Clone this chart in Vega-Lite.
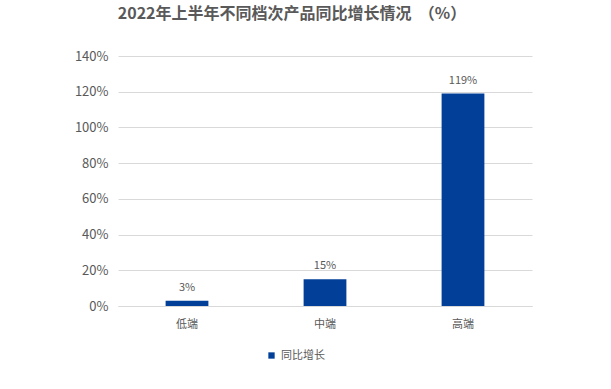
{
  "$schema": "https://vega.github.io/schema/vega-lite/v6.json",
  "width": 414,
  "height": 250,
  "autosize": "none",
  "padding": {"left": 118, "top": 56, "right": 79, "bottom": 83},
  "background": "white",
  "config": {
    "font": "Noto Sans CJK SC",
    "view": {"stroke": null}
  },
  "title": {
    "text": "2022年上半年不同档次产品同比增长情况\u00a0\u00a0（%）",
    "fontSize": 16,
    "fontWeight": "bold",
    "color": "#595959",
    "anchor": "middle",
    "frame": "group",
    "dx": -33,
    "offset": 28
  },
  "data": {
    "values": [
      {"档次": "低端", "同比增长": 0.03, "label": "3%", "series": "同比增长"},
      {"档次": "中端", "同比增长": 0.15, "label": "15%", "series": "同比增长"},
      {"档次": "高端", "同比增长": 1.19, "label": "119%", "series": "同比增长"}
    ]
  },
  "encoding": {
    "x": {
      "field": "档次",
      "type": "nominal",
      "sort": null,
      "scale": {"paddingInner": 0.69, "paddingOuter": 0.345},
      "axis": {
        "title": null,
        "labelAngle": 0,
        "labelFontSize": 11,
        "labelColor": "#595959",
        "labelPadding": 12,
        "ticks": false,
        "domainColor": "#d9d9d9"
      }
    },
    "y": {
      "field": "同比增长",
      "type": "quantitative",
      "scale": {"domain": [0, 1.4]},
      "axis": {
        "title": null,
        "format": ".0%",
        "values": [0, 0.2, 0.4, 0.6, 0.8, 1.0, 1.2, 1.4],
        "labelFontSize": 13,
        "labelColor": "#595959",
        "labelPadding": 10,
        "ticks": false,
        "domain": false,
        "gridColor": "#d9d9d9"
      }
    }
  },
  "layer": [
    {
      "mark": {"type": "bar"},
      "encoding": {
        "color": {
          "field": "series",
          "type": "nominal",
          "scale": {"range": ["#023F98"]},
          "legend": {
            "title": null,
            "orient": "none",
            "legendX": 148,
            "legendY": 294,
            "symbolType": "square",
            "symbolSize": 40,
            "labelFontSize": 11,
            "labelColor": "#595959"
          }
        }
      }
    },
    {
      "mark": {"type": "text", "dy": -13, "fontSize": 11, "color": "#595959"},
      "encoding": {"text": {"field": "label"}}
    }
  ]
}
